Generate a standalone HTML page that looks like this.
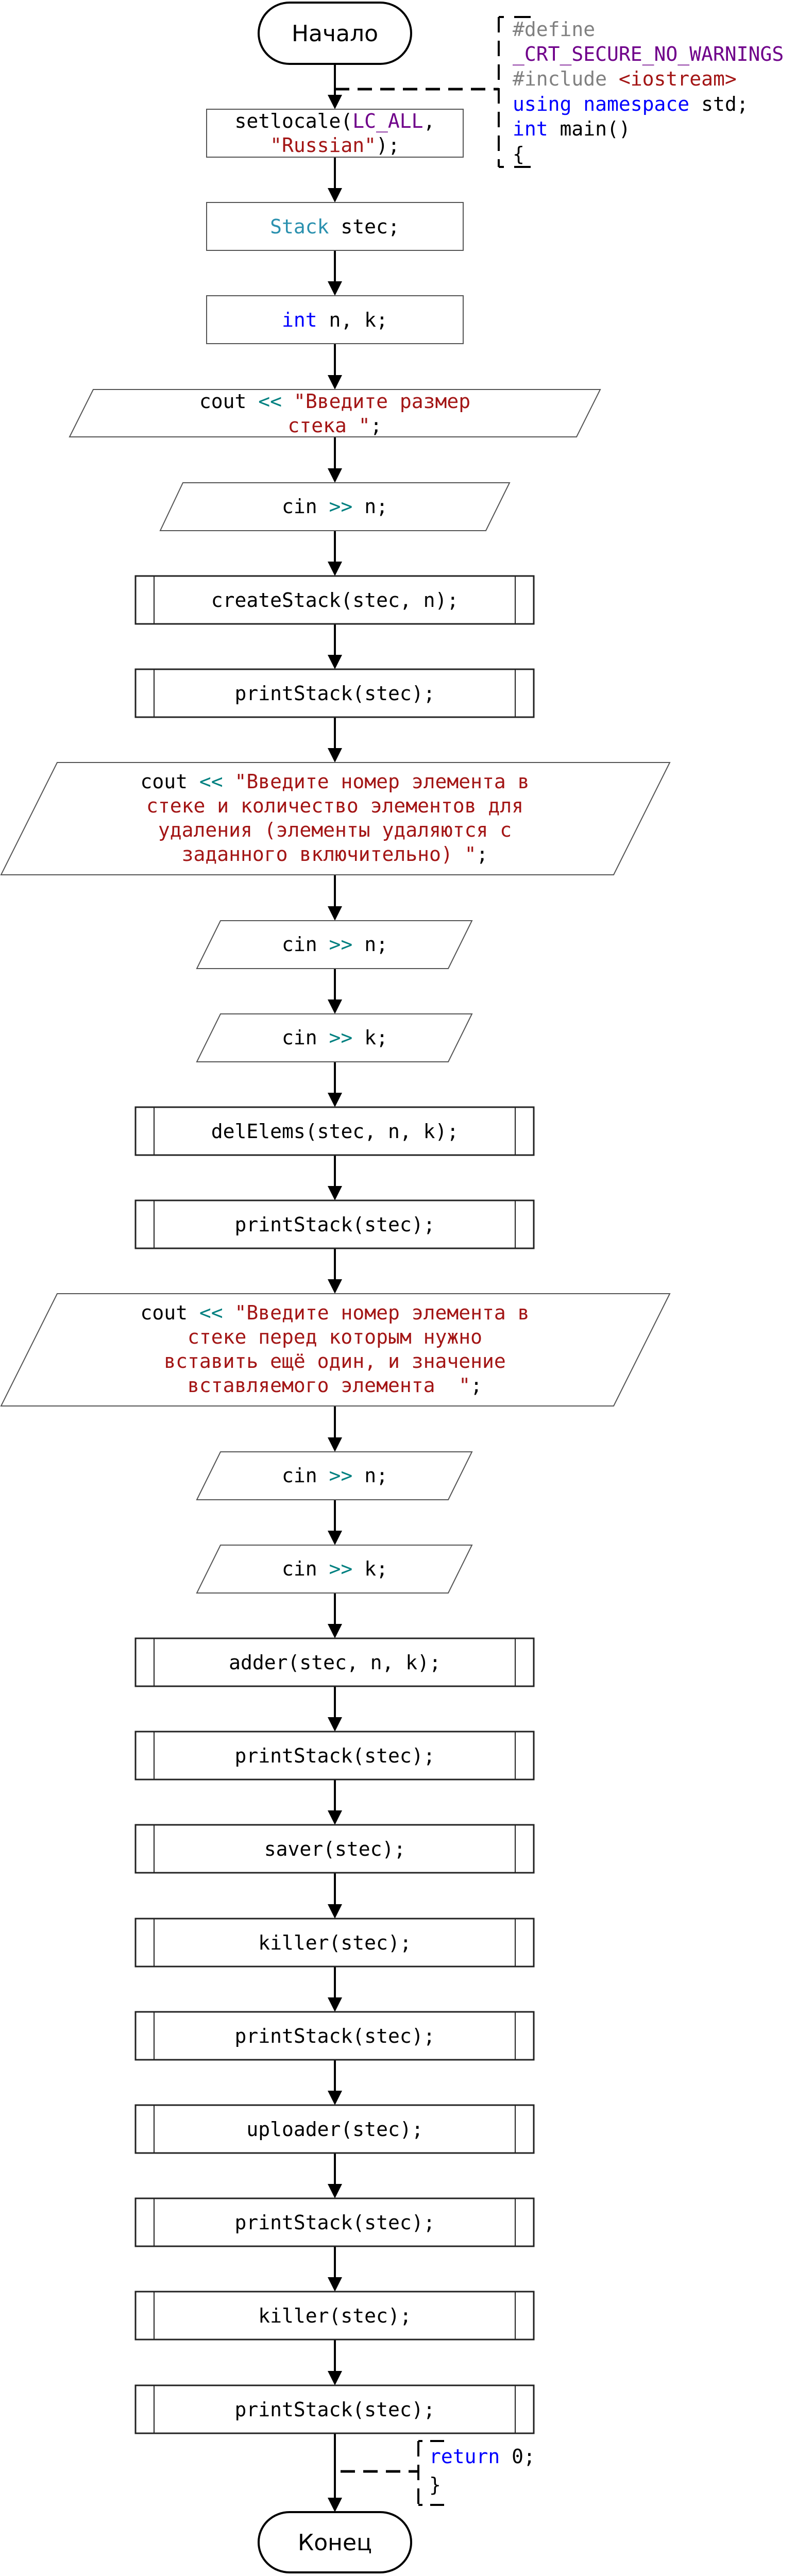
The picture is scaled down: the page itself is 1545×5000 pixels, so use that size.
<!DOCTYPE html>
<html><head><meta charset="utf-8"><style>
html,body{margin:0;padding:0;background:#fff;}
svg{display:block;}
text{font-family:"DejaVu Sans Mono","Liberation Mono",monospace;font-size:38px;fill:#000;}
.k{fill:#0000ff}.s{fill:#a31515}.t{fill:#2b91af}.o{fill:#008080}.m{fill:#6f008a}.p{fill:#808080}
.b{fill:#fff;stroke:#555;stroke-width:2}
.pb{fill:#fff;stroke:#222;stroke-width:3}
.c{stroke:#000;stroke-width:4;fill:none}
.d{stroke:#000;stroke-width:5;fill:none;stroke-dasharray:28 16}
.il{stroke:#222;stroke-width:2}
</style></head><body>
<svg width="1545" height="5000" viewBox="0 0 1545 5000" xmlns="http://www.w3.org/2000/svg">
<g>
<line class="c" x1="650" y1="124" x2="650" y2="184"/><path d="M636,184 L664,184 L650,212Z"/>
<line class="c" x1="650" y1="305" x2="650" y2="365"/><path d="M636,365 L664,365 L650,393Z"/>
<line class="c" x1="650" y1="486" x2="650" y2="546"/><path d="M636,546 L664,546 L650,574Z"/>
<line class="c" x1="650" y1="667" x2="650" y2="728"/><path d="M636,728 L664,728 L650,756Z"/>
<line class="c" x1="650" y1="848" x2="650" y2="909"/><path d="M636,909 L664,909 L650,937Z"/>
<line class="c" x1="650" y1="1030" x2="650" y2="1090"/><path d="M636,1090 L664,1090 L650,1118Z"/>
<line class="c" x1="650" y1="1211" x2="650" y2="1271"/><path d="M636,1271 L664,1271 L650,1299Z"/>
<line class="c" x1="650" y1="1392" x2="650" y2="1452"/><path d="M636,1452 L664,1452 L650,1480Z"/>
<line class="c" x1="650" y1="1698" x2="650" y2="1759"/><path d="M636,1759 L664,1759 L650,1787Z"/>
<line class="c" x1="650" y1="1880" x2="650" y2="1940"/><path d="M636,1940 L664,1940 L650,1968Z"/>
<line class="c" x1="650" y1="2061" x2="650" y2="2121"/><path d="M636,2121 L664,2121 L650,2149Z"/>
<line class="c" x1="650" y1="2242" x2="650" y2="2302"/><path d="M636,2302 L664,2302 L650,2330Z"/>
<line class="c" x1="650" y1="2423" x2="650" y2="2483"/><path d="M636,2483 L664,2483 L650,2511Z"/>
<line class="c" x1="650" y1="2729" x2="650" y2="2790"/><path d="M636,2790 L664,2790 L650,2818Z"/>
<line class="c" x1="650" y1="2911" x2="650" y2="2971"/><path d="M636,2971 L664,2971 L650,2999Z"/>
<line class="c" x1="650" y1="3092" x2="650" y2="3152"/><path d="M636,3152 L664,3152 L650,3180Z"/>
<line class="c" x1="650" y1="3273" x2="650" y2="3333"/><path d="M636,3333 L664,3333 L650,3361Z"/>
<line class="c" x1="650" y1="3454" x2="650" y2="3514"/><path d="M636,3514 L664,3514 L650,3542Z"/>
<line class="c" x1="650" y1="3635" x2="650" y2="3696"/><path d="M636,3696 L664,3696 L650,3724Z"/>
<line class="c" x1="650" y1="3817" x2="650" y2="3877"/><path d="M636,3877 L664,3877 L650,3905Z"/>
<line class="c" x1="650" y1="3998" x2="650" y2="4058"/><path d="M636,4058 L664,4058 L650,4086Z"/>
<line class="c" x1="650" y1="4179" x2="650" y2="4239"/><path d="M636,4239 L664,4239 L650,4267Z"/>
<line class="c" x1="650" y1="4360" x2="650" y2="4420"/><path d="M636,4420 L664,4420 L650,4448Z"/>
<line class="c" x1="650" y1="4541" x2="650" y2="4602"/><path d="M636,4602 L664,4602 L650,4630Z"/>
<line class="c" x1="650" y1="4722" x2="650" y2="4848"/><path d="M636,4848 L664,4848 L650,4876Z"/>
</g>

<rect x="502" y="5" width="296" height="119" rx="60" ry="60" fill="#fff" stroke="#000" stroke-width="4"/>
<text x="650" y="80" text-anchor="middle" style="font-family:'DejaVu Sans',sans-serif;font-size:44px">Начало</text>

<line class="d" x1="650" y1="173" x2="968" y2="173"/>
<line x1="968" y1="33" x2="968" y2="324" stroke="#000" stroke-width="4" stroke-dasharray="30 16"/>
<line x1="968" y1="33" x2="978" y2="33" stroke="#000" stroke-width="4"/>
<line x1="998" y1="33" x2="1030" y2="33" stroke="#000" stroke-width="4"/>
<line x1="968" y1="324" x2="978" y2="324" stroke="#000" stroke-width="4"/>
<line x1="998" y1="324" x2="1030" y2="324" stroke="#000" stroke-width="4"/>
<text x="995" y="70"><tspan class="p">#define</tspan></text>
<text x="995" y="118"><tspan class="m">_CRT_SECURE_NO_WARNINGS</tspan></text>
<text x="995" y="166" xml:space="preserve"><tspan class="p">#include</tspan> <tspan class="s">&lt;iostream&gt;</tspan></text>
<text x="995" y="215" xml:space="preserve"><tspan class="k">using</tspan> <tspan class="k">namespace</tspan> std;</text>
<text x="995" y="263" xml:space="preserve"><tspan class="k">int</tspan> main()</text>
<text x="995" y="312">{</text>

<rect class="b" x="401" y="212" width="498" height="93"/>
<text x="650" y="248" text-anchor="middle" xml:space="preserve">setlocale(<tspan class="m">LC_ALL</tspan>,</text>
<text x="650" y="295" text-anchor="middle" xml:space="preserve"><tspan class="s">"Russian"</tspan>);</text>
<rect class="b" x="401" y="393" width="498" height="93"/>
<text x="650" y="453" text-anchor="middle" xml:space="preserve"><tspan class="t">Stack</tspan> stec;</text>
<rect class="b" x="401" y="574" width="498" height="93"/>
<text x="650" y="634" text-anchor="middle" xml:space="preserve"><tspan class="k">int</tspan> n, k;</text>
<polygon class="b" points="181,756 1165,756 1119,848 135,848"/>
<text x="650" y="792" text-anchor="middle" xml:space="preserve">cout <tspan class="o">&lt;&lt;</tspan> <tspan class="s">"Введите размер</tspan></text>
<text x="650" y="839" text-anchor="middle" xml:space="preserve"><tspan class="s">стека "</tspan>;</text>
<polygon class="b" points="355,937 989,937 943,1030 311,1030"/>
<text x="650" y="996" text-anchor="middle" xml:space="preserve">cin <tspan class="o">&gt;&gt;</tspan> n;</text>
<rect class="pb" x="263" y="1118" width="773" height="93"/><line class="il" x1="299" y1="1118" x2="299" y2="1211"/><line class="il" x1="1000" y1="1118" x2="1000" y2="1211"/>
<text x="650" y="1178" text-anchor="middle">createStack(stec, n);</text>
<rect class="pb" x="263" y="1299" width="773" height="93"/><line class="il" x1="299" y1="1299" x2="299" y2="1392"/><line class="il" x1="1000" y1="1299" x2="1000" y2="1392"/>
<text x="650" y="1359" text-anchor="middle">printStack(stec);</text>
<polygon class="b" points="111,1480 1300,1480 1191,1698 2,1698"/>
<text x="650" y="1530" text-anchor="middle" xml:space="preserve">cout <tspan class="o">&lt;&lt;</tspan> <tspan class="s">"Введите номер элемента в</tspan></text>
<text x="650" y="1577" text-anchor="middle" class="s">стеке и количество элементов для</text>
<text x="650" y="1624" text-anchor="middle" class="s">удаления (элементы удаляются с</text>
<text x="650" y="1671" text-anchor="middle" xml:space="preserve"><tspan class="s">заданного включительно) "</tspan>;</text>
<polygon class="b" points="428,1787 916,1787 870,1880 382,1880"/>
<text x="650" y="1846" text-anchor="middle" xml:space="preserve">cin <tspan class="o">&gt;&gt;</tspan> n;</text>
<polygon class="b" points="428,1968 916,1968 870,2061 382,2061"/>
<text x="650" y="2027" text-anchor="middle" xml:space="preserve">cin <tspan class="o">&gt;&gt;</tspan> k;</text>
<rect class="pb" x="263" y="2149" width="773" height="93"/><line class="il" x1="299" y1="2149" x2="299" y2="2242"/><line class="il" x1="1000" y1="2149" x2="1000" y2="2242"/>
<text x="650" y="2209" text-anchor="middle">delElems(stec, n, k);</text>
<rect class="pb" x="263" y="2330" width="773" height="93"/><line class="il" x1="299" y1="2330" x2="299" y2="2423"/><line class="il" x1="1000" y1="2330" x2="1000" y2="2423"/>
<text x="650" y="2390" text-anchor="middle">printStack(stec);</text>
<polygon class="b" points="111,2511 1300,2511 1191,2729 2,2729"/>
<text x="650" y="2561" text-anchor="middle" xml:space="preserve">cout <tspan class="o">&lt;&lt;</tspan> <tspan class="s">"Введите номер элемента в</tspan></text>
<text x="650" y="2608" text-anchor="middle" class="s">стеке перед которым нужно</text>
<text x="650" y="2655" text-anchor="middle" class="s">вставить ещё один, и значение</text>
<text x="650" y="2702" text-anchor="middle" xml:space="preserve"><tspan class="s">вставляемого элемента  "</tspan>;</text>
<polygon class="b" points="428,2818 916,2818 870,2911 382,2911"/>
<text x="650" y="2877" text-anchor="middle" xml:space="preserve">cin <tspan class="o">&gt;&gt;</tspan> n;</text>
<polygon class="b" points="428,2999 916,2999 870,3092 382,3092"/>
<text x="650" y="3058" text-anchor="middle" xml:space="preserve">cin <tspan class="o">&gt;&gt;</tspan> k;</text>
<rect class="pb" x="263" y="3180" width="773" height="93"/><line class="il" x1="299" y1="3180" x2="299" y2="3273"/><line class="il" x1="1000" y1="3180" x2="1000" y2="3273"/>
<text x="650" y="3240" text-anchor="middle">adder(stec, n, k);</text>
<rect class="pb" x="263" y="3361" width="773" height="93"/><line class="il" x1="299" y1="3361" x2="299" y2="3454"/><line class="il" x1="1000" y1="3361" x2="1000" y2="3454"/>
<text x="650" y="3421" text-anchor="middle">printStack(stec);</text>
<rect class="pb" x="263" y="3542" width="773" height="93"/><line class="il" x1="299" y1="3542" x2="299" y2="3635"/><line class="il" x1="1000" y1="3542" x2="1000" y2="3635"/>
<text x="650" y="3602" text-anchor="middle">saver(stec);</text>
<rect class="pb" x="263" y="3724" width="773" height="93"/><line class="il" x1="299" y1="3724" x2="299" y2="3817"/><line class="il" x1="1000" y1="3724" x2="1000" y2="3817"/>
<text x="650" y="3784" text-anchor="middle">killer(stec);</text>
<rect class="pb" x="263" y="3905" width="773" height="93"/><line class="il" x1="299" y1="3905" x2="299" y2="3998"/><line class="il" x1="1000" y1="3905" x2="1000" y2="3998"/>
<text x="650" y="3965" text-anchor="middle">printStack(stec);</text>
<rect class="pb" x="263" y="4086" width="773" height="93"/><line class="il" x1="299" y1="4086" x2="299" y2="4179"/><line class="il" x1="1000" y1="4086" x2="1000" y2="4179"/>
<text x="650" y="4146" text-anchor="middle">uploader(stec);</text>
<rect class="pb" x="263" y="4267" width="773" height="93"/><line class="il" x1="299" y1="4267" x2="299" y2="4360"/><line class="il" x1="1000" y1="4267" x2="1000" y2="4360"/>
<text x="650" y="4327" text-anchor="middle">printStack(stec);</text>
<rect class="pb" x="263" y="4448" width="773" height="93"/><line class="il" x1="299" y1="4448" x2="299" y2="4541"/><line class="il" x1="1000" y1="4448" x2="1000" y2="4541"/>
<text x="650" y="4508" text-anchor="middle">killer(stec);</text>
<rect class="pb" x="263" y="4630" width="773" height="93"/><line class="il" x1="299" y1="4630" x2="299" y2="4723"/><line class="il" x1="1000" y1="4630" x2="1000" y2="4723"/>
<text x="650" y="4690" text-anchor="middle">printStack(stec);</text>

<line class="d" x1="661" y1="4797" x2="812" y2="4797"/>
<line x1="812" y1="4738" x2="812" y2="4862" stroke="#000" stroke-width="4" stroke-dasharray="30 16"/>
<line x1="812" y1="4738" x2="820" y2="4738" stroke="#000" stroke-width="4"/>
<line x1="835" y1="4738" x2="862" y2="4738" stroke="#000" stroke-width="4"/>
<line x1="812" y1="4862" x2="820" y2="4862" stroke="#000" stroke-width="4"/>
<line x1="835" y1="4862" x2="862" y2="4862" stroke="#000" stroke-width="4"/>
<text x="833" y="4781" xml:space="preserve"><tspan class="k">return</tspan> 0;</text>
<text x="833" y="4836">}</text>

<rect x="502" y="4876" width="296" height="117" rx="60" ry="58" fill="#fff" stroke="#000" stroke-width="4"/>
<text x="650" y="4950" text-anchor="middle" style="font-family:'DejaVu Sans',sans-serif;font-size:44px">Конец</text>
</svg>
</body></html>
